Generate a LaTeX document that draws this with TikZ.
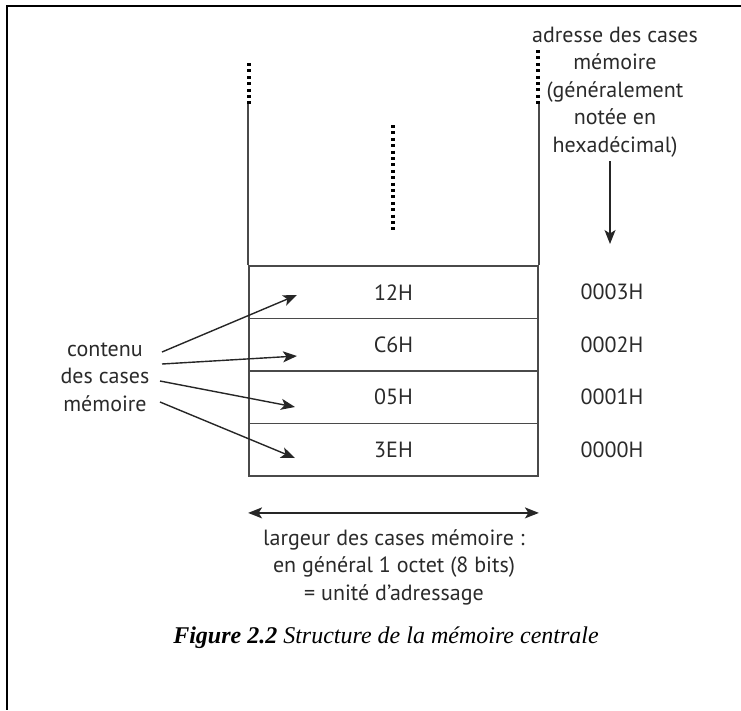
\documentclass[tikz,border=0pt]{standalone}
\usepackage{fontspec}
\setmainfont{PT Sans}
\newfontfamily\capfont{Liberation Serif}
\usetikzlibrary{arrows.meta,positioning}
\definecolor{cline}{HTML}{4A4A4A}
\definecolor{ctext}{HTML}{2A2A2A}
\tikzset{lbl/.style={font=\fontsize{22}{27.5}\selectfont, text=ctext, align=center, inner sep=0pt},
  cell/.style={draw=cline, line width=1.8pt, minimum width=289pt, minimum height=52.5pt, inner sep=0pt, font=\fontsize{22}{24}\selectfont, text=ctext},
  wall/.style={draw=cline, line width=1.8pt},
  dots/.style={line width=3.2pt, dash pattern=on 3pt off 3.4pt},
  arr/.style={-{Stealth[length=14pt,width=11pt,inset=3.5pt]}, line width=1.4pt, black!85},
  dblarr/.style={{Stealth[length=14pt,width=11pt,inset=3.5pt]}-{Stealth[length=14pt,width=11pt,inset=3.5pt]}, line width=1.6pt, black!85}}

\begin{document}
\begin{tikzpicture}[x=1pt,y=-1pt]
\useasboundingbox (0,0) rectangle (741,710);
% ---- frame ----
\draw[line width=1.5pt] (741,6) -- (7,6) -- (7,710);
% ---- memory cells ----
\foreach \v/\a [count=\i from 0] in {12H/0003H,C6H/0002H,05H/0001H,3EH/0000H}{
  \node[cell] (c\i) at (393.5,292.25+52.5*\i) {\v};
  \node[lbl] (a\i) at (612,292.25+52.5*\i) {\a};}
\draw[wall] (c0.north west) -- ++(0,-161);
\draw[wall] (c0.north east) -- ++(0,-161);
\draw[dots] (249,63) -- (249,105);
\draw[dots] (538,50) -- (538,105);
\draw[dots] (393,125) -- (393,231);
% ---- address label ----
\node[lbl] (adr) at (615,92) {adresse des cases\\ mémoire\\ (généralement\\ notée en\\ hexadécimal)};
\coordinate (adrtip) at (610,244);
\draw[arr] (adr.south -| adrtip) ++(0,4) -- (adrtip);
% ---- contents label ----
\node[lbl] (cont) at (105,377) {contenu\\ des cases\\ mémoire};
\draw[arr] (162,352) -- (297,295);
\draw[arr] (162,364) -- (297,356);
\draw[arr] (160,381) -- (295,407);
\draw[arr] (160,402) -- (295,458);
% ---- width ----
\draw[dblarr] ([yshift=-36pt]c3.south west) -- ([yshift=-36pt]c3.south east);
\node[lbl] (wlab) at (394,567) {largeur des cases mémoire :\\ en général 1 octet (8 bits)\\ = unité d'adressage};
% ---- caption ----
\node[inner sep=0pt, font=\capfont\fontsize{24}{28}\selectfont] (cap) at (386,638) {\textbf{\textit{Figure 2.2}} \textit{Structure de la mémoire centrale}};
\end{tikzpicture}
\end{document}
